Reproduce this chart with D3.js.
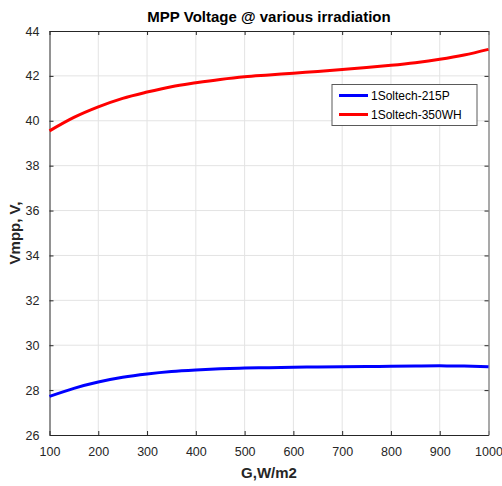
<!DOCTYPE html>
<html>
<head>
<meta charset="utf-8">
<script src="https://cdn.jsdelivr.net/npm/d3@7"></script>
<style>
  body { margin: 0; background: #fff; }
  text { font-family: "Liberation Sans", Arial, sans-serif; }
</style>
</head>
<body>
<div class="chart"></div>
<script>
(function () {
  var irradiance = [100, 150, 200, 250, 300, 350, 400, 450, 500, 550, 600, 650, 700, 750, 800, 850, 900, 950, 1000];
  var v215P = [27.72, 28.08, 28.36, 28.57, 28.72, 28.83, 28.9, 28.95, 28.98, 29.0, 29.02, 29.03, 29.04, 29.05, 29.06, 29.07, 29.08, 29.07, 29.04];
  var v350WH = [39.55, 40.15, 40.62, 41.0, 41.28, 41.52, 41.69, 41.84, 41.96, 42.04, 42.12, 42.2, 42.28, 42.37, 42.47, 42.59, 42.74, 42.93, 43.18];
  var seriesNames = ['1Soltech-215P', '1Soltech-350WH'];
  var seriesColors = ['#0000ff', '#ff0000'];
  var xTicks = [100, 200, 300, 400, 500, 600, 700, 800, 900, 1000];
  var yTicks = [26, 28, 30, 32, 34, 36, 38, 40, 42, 44];

  var series = [
    { name: seriesNames[0], color: seriesColors[0], values: v215P },
    { name: seriesNames[1], color: seriesColors[1], values: v350WH }
  ];

  var svg = d3.select('.chart').append('svg')
    .attr('width', 502)
    .attr('height', 486);
  var margin = {top: 31, right: 13.5, bottom: 51, left: 49.5};
  var width = +svg.attr('width') - margin.left - margin.right;
  var height = +svg.attr('height') - margin.top - margin.bottom;
  var g = svg.append('g').attr('transform', 'translate(' + margin.left + ',' + margin.top + ')');

  var x = d3.scaleLinear().domain([100, 1000]).range([0, width]);
  var y = d3.scaleLinear().domain([26, 44]).range([height, 0]);

  // grid
  g.append('g').selectAll('line')
    .data(xTicks.slice(1, -1))
    .enter().append('line')
      .attr('x1', function (d) { return x(d); })
      .attr('x2', function (d) { return x(d); })
      .attr('y1', 0).attr('y2', height)
      .attr('stroke', '#e3e3e3').attr('stroke-width', 1);
  g.append('g').selectAll('line')
    .data(yTicks.slice(1, -1))
    .enter().append('line')
      .attr('y1', function (d) { return y(d); })
      .attr('y2', function (d) { return y(d); })
      .attr('x1', 0).attr('x2', width)
      .attr('stroke', '#e3e3e3').attr('stroke-width', 1);

  // axes
  var axisBottom = d3.axisBottom(x).tickValues(xTicks).tickFormat(d3.format('d'))
    .tickSizeInner(-4).tickSizeOuter(0).tickPadding(12);
  var axisTop = d3.axisTop(x).tickValues(xTicks).tickSizeInner(-4).tickSizeOuter(0).tickFormat('');
  var axisLeft = d3.axisLeft(y).tickValues(yTicks).tickSizeInner(-4).tickSizeOuter(0).tickPadding(10);
  var axisRight = d3.axisRight(y).tickValues(yTicks).tickSizeInner(-4).tickSizeOuter(0).tickFormat('');

  g.append('g').attr('class', 'axis').attr('transform', 'translate(0,' + height + ')').call(axisBottom);
  g.append('g').attr('class', 'axis').call(axisTop);
  g.append('g').attr('class', 'axis').call(axisLeft);
  g.append('g').attr('class', 'axis axis--r').attr('transform', 'translate(' + width + ',0)').call(axisRight);

  g.selectAll('.axis path').attr('stroke', '#262626');
  g.selectAll('.axis line').attr('stroke', '#262626');
  g.selectAll('.axis--r path').attr('stroke', '#8c8c8c').attr('stroke-width', 1.5);
  g.selectAll('.axis text')
    .attr('font-size', '12.5px')
    .attr('fill', '#262626')
    .style('font-family', '"Liberation Sans", Arial, sans-serif');

  // lines
  var line = d3.line()
    .curve(d3.curveMonotoneX)
    .x(function (d, i) { return x(irradiance[i]); })
    .y(function (d) { return y(d); });

  g.selectAll('.series')
    .data(series)
    .enter().append('path')
      .attr('class', 'series')
      .attr('d', function (d) { return line(d.values); })
      .attr('fill', 'none')
      .attr('stroke', function (d) { return d.color; })
      .attr('stroke-width', 3);

  // legend
  var legend = svg.append('g').attr('transform', 'translate(332,84.5)');
  legend.append('rect')
    .attr('width', 145)
    .attr('height', 41)
    .attr('fill', '#fff')
    .attr('stroke', '#5a5a5a')
    .attr('stroke-width', 1);
  var item = legend.selectAll('.item')
    .data(series)
    .enter().append('g')
      .attr('transform', function (d, i) { return 'translate(0,' + (11 + i * 19) + ')'; });
  item.append('line')
    .attr('x1', 7).attr('x2', 36)
    .attr('stroke', function (d) { return d.color; })
    .attr('stroke-width', 3);
  item.append('text')
    .attr('x', 39)
    .attr('y', 4.5)
    .attr('font-size', '12px')
    .attr('fill', '#000')
    .text(function (d) { return d.name; });

  // labels
  svg.append('text')
    .attr('x', margin.left + width / 2)
    .attr('y', 22)
    .attr('text-anchor', 'middle')
    .attr('font-size', '15px')
    .attr('font-weight', 'bold')
    .attr('fill', '#000')
    .text('MPP Voltage @ various irradiation');
  svg.append('text')
    .attr('x', margin.left + width / 2)
    .attr('y', 478)
    .attr('text-anchor', 'middle')
    .attr('font-size', '15px')
    .attr('font-weight', 'bold')
    .attr('fill', '#262626')
    .text('G,W/m2');
  svg.append('text')
    .attr('transform', 'translate(20,' + (margin.top + height / 2) + ') rotate(-90)')
    .attr('text-anchor', 'middle')
    .attr('font-size', '15px')
    .attr('font-weight', 'bold')
    .attr('fill', '#262626')
    .text('Vmpp, V,');
})();
</script>
</body>
</html>
